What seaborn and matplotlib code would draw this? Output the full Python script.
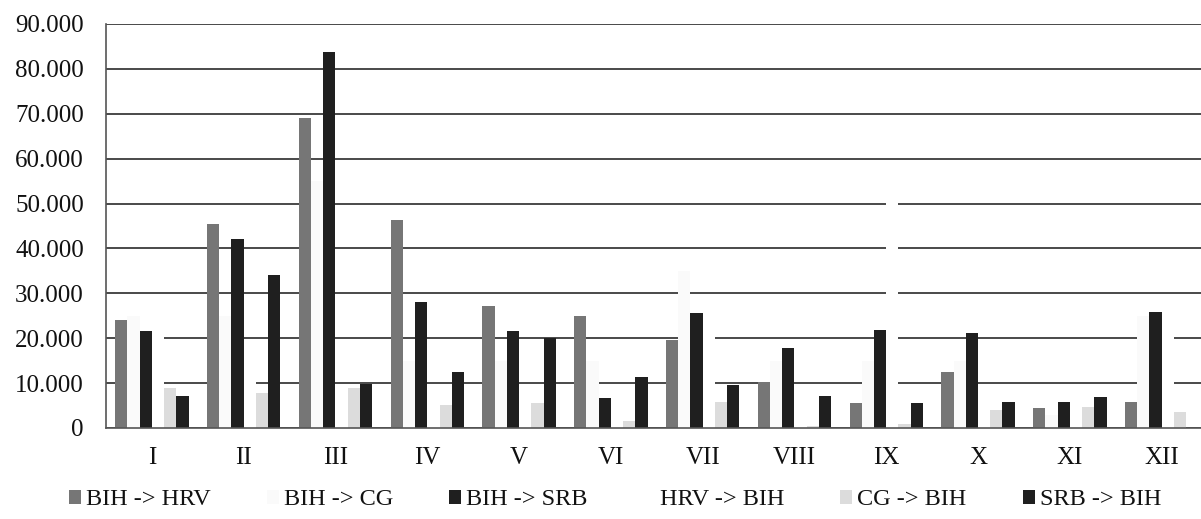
import matplotlib
matplotlib.use("Agg")
import matplotlib.pyplot as plt
import seaborn as sns
import pandas as pd
import numpy as np
from matplotlib.ticker import FuncFormatter
from matplotlib.patches import Patch

# ---- data ----
months = ["I", "II", "III", "IV", "V", "VI", "VII", "VIII", "IX", "X", "XI", "XII"]
series = ["BIH -> HRV", "BIH -> CG", "BIH -> SRB", "HRV -> BIH", "CG -> BIH", "SRB -> BIH"]

bih_hrv = [24000, 45500, 69000, 46300, 27200, 25000, 19600, 10300, 5600, 12400, 4400, 5900]
bih_cg = [25000, 25000, 55000, 15000, 15000, 15000, 35000, 15000, 15000, 15000, 3000, 25000]
bih_srb = [21700, 42000, 83800, 28000, 21600, 6600, 25700, 17900, 21800, 21200, 5700, 25900]
hrv_bih = [25000, 15000, 5000, 5000, 5000, 5000, 25000, 5000, 55000, 5000, 5000, 25000]
cg_bih = [8900, 7900, 8900, 5100, 5600, 1600, 5900, 500, 800, 3900, 4700, 3600]
srb_bih = [7200, 34100, 9800, 12500, 20000, 11300, 9600, 7100, 5600, 5900, 7000, 0]

colors = ["#767676", "#fafafa", "#1f1f1f", "#ffffff", "#dcdcdc", "#1f1f1f"]

values = [bih_hrv, bih_cg, bih_srb, hrv_bih, cg_bih, srb_bih]
rows = []
for s, vals in zip(series, values):
    for m, v in zip(months, vals):
        rows.append({"month": m, "series": s, "value": v})
df = pd.DataFrame(rows)

sns.set_style("white")
plt.rcParams["font.family"] = ["Liberation Serif", "DejaVu Serif"]

W, H = 1201, 519
fig = plt.figure(figsize=(W / 100, H / 100), dpi=100)
ax = fig.add_axes([106 / W, (H - 428) / H, (1207.5 - 106) / W, (428 - 24) / H])

sns.barplot(data=df, x="month", y="value", hue="series", order=months,
            hue_order=series, palette=colors, width=0.8, saturation=1,
            edgecolor="none", linewidth=0, errorbar=None, legend=False, ax=ax)

ax.set_xlim(-0.5, 11.5)
ax.set_ylim(0, 90000)
ax.set_yticks(np.arange(0, 90001, 10000))
ax.yaxis.set_major_formatter(FuncFormatter(lambda v, p: f"{int(v):,}".replace(",", ".")))
ax.yaxis.grid(True, color="#3a3a3a", linewidth=1.3)
ax.xaxis.grid(False)
ax.set_axisbelow(True)
ax.set_xlabel("")
ax.set_ylabel("")

for side in ["top", "right"]:
    ax.spines[side].set_visible(False)
for side in ["left", "bottom"]:
    ax.spines[side].set_color("#555555")
    ax.spines[side].set_linewidth(1.2)

ax.set_xticks(np.arange(-0.5, 12, 1), minor=True)
ax.tick_params(axis="x", which="major", length=0, pad=14, labelsize=18, colors="#111111")
ax.tick_params(axis="x", which="minor", length=5, width=1, color="#555555", direction="out")
ax.tick_params(axis="y", which="major", length=5, width=1, color="#555555", direction="out",
               pad=11, labelsize=18, labelcolor="#111111")

handles = [Patch(facecolor=c, edgecolor="none") for c in colors]
fig.legend(handles, series, ncol=6, loc="center", bbox_to_anchor=(0.512, 0.037),
           frameon=False, handlelength=0.5, handleheight=0.5, handletextpad=0.2,
           columnspacing=2.3, fontsize=17.5, labelcolor="#111111")

fig.savefig("out.png", dpi=100)
